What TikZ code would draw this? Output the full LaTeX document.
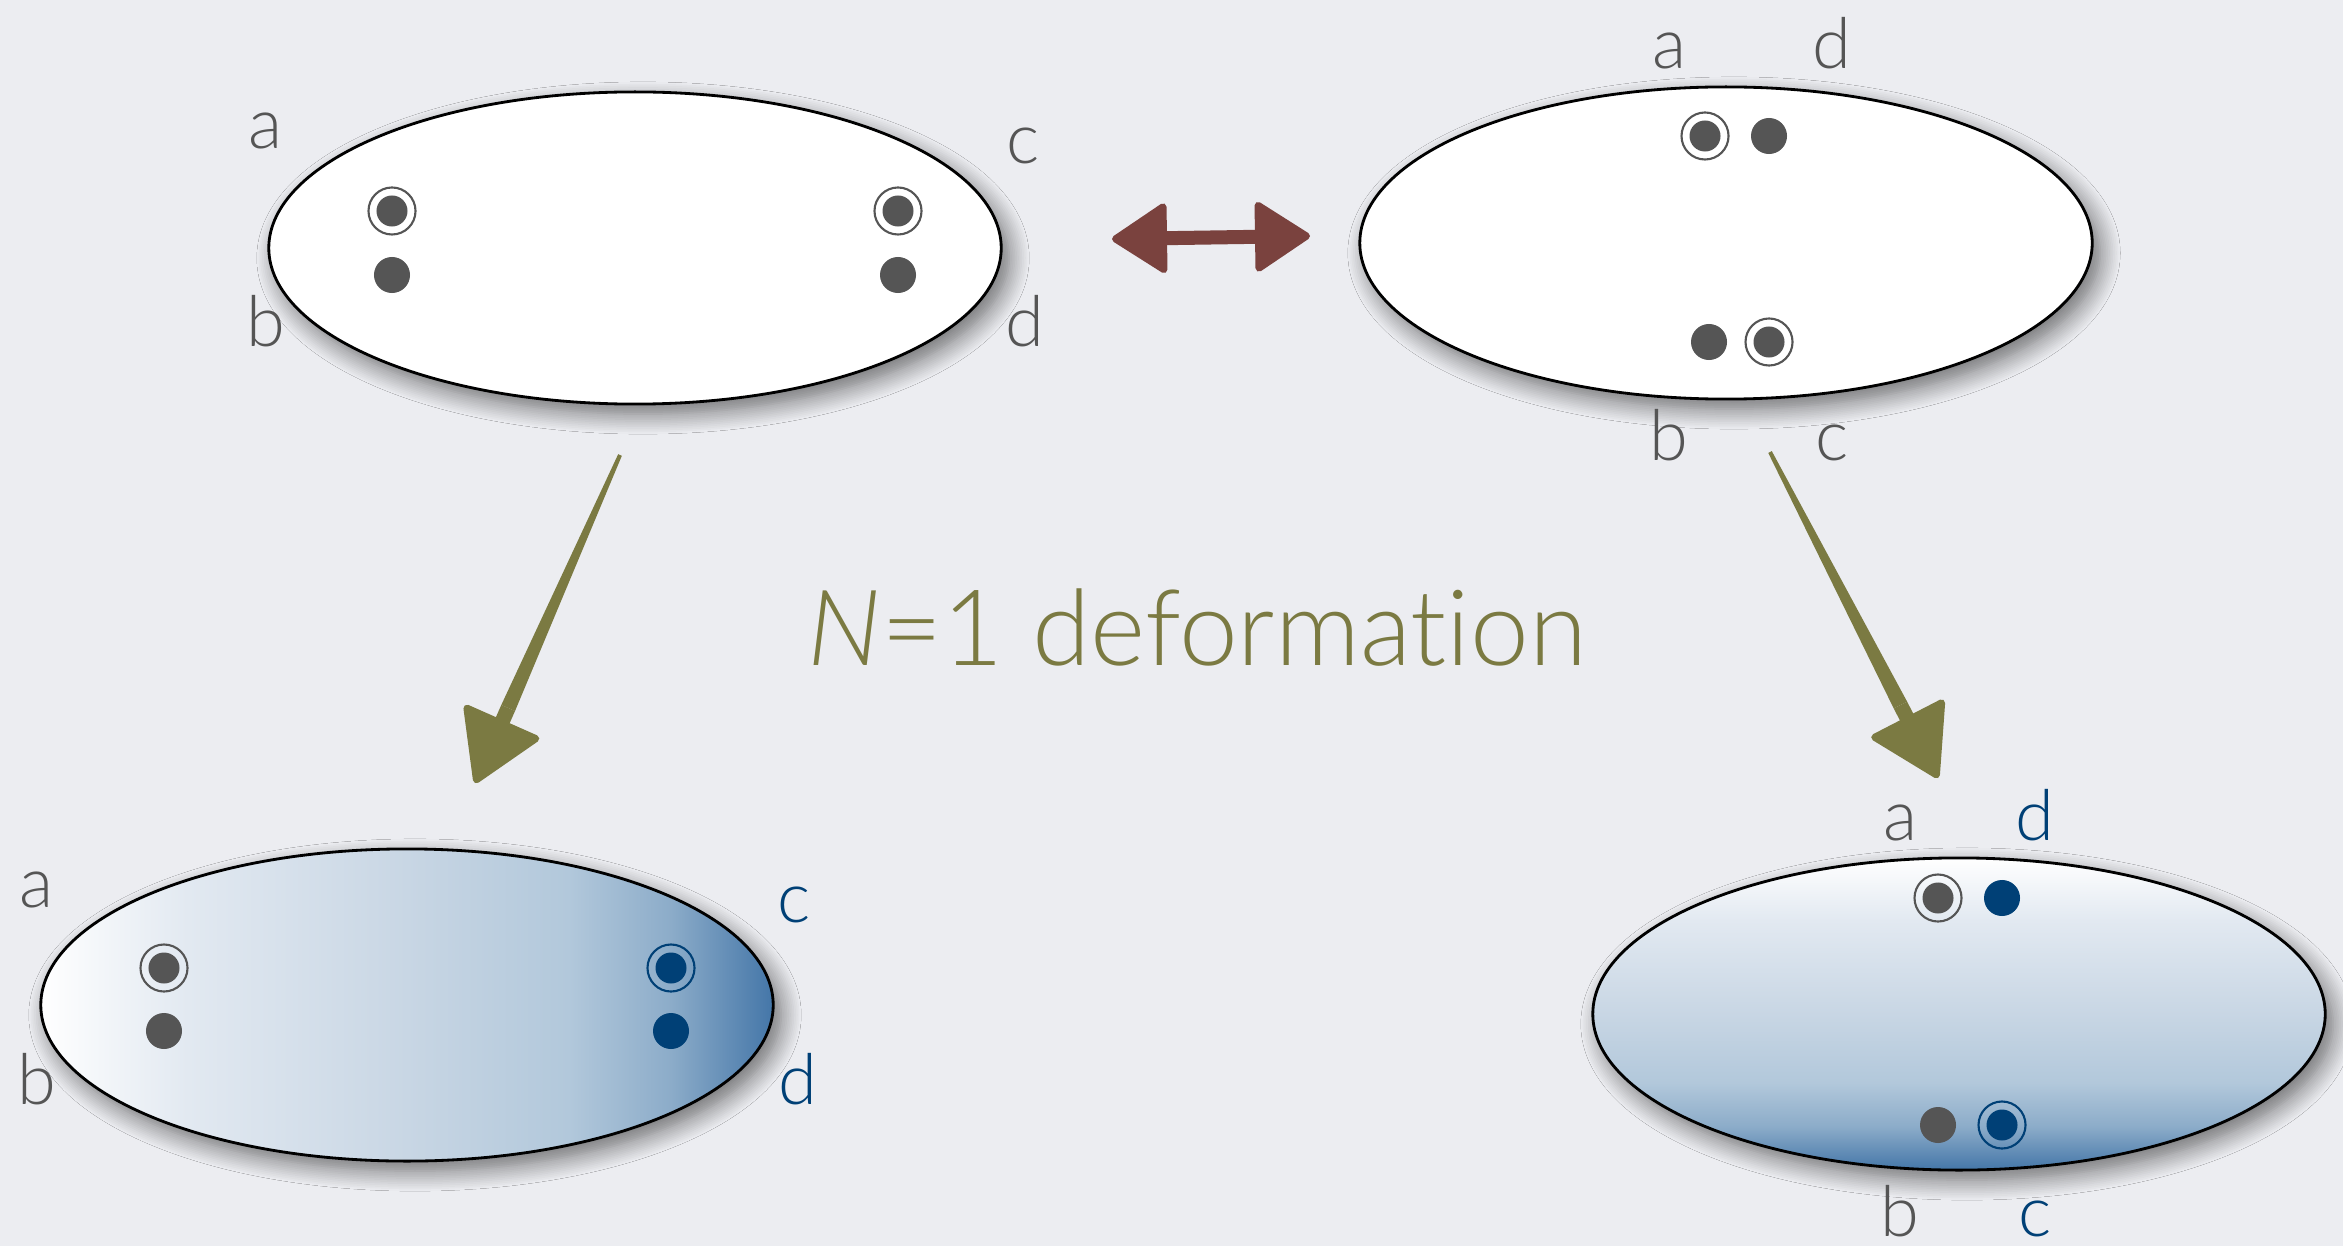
\documentclass[tikz,border=0pt]{standalone}
\usepackage{fontspec}
\setmainfont{Lato Light}[Ligatures={NoCommon}]
\usetikzlibrary{shapes.geometric,arrows.meta,shadows.blur,calc}
\definecolor{bg}{RGB}{236,237,241}
\definecolor{dotgray}{RGB}{85,85,85}
\definecolor{dotblue}{RGB}{0,64,118}
\definecolor{olivec}{RGB}{123,122,66}
\definecolor{brownred}{RGB}{122,66,62}
\definecolor{shblue}{RGB}{68,118,168}
\definecolor{sa}{RGB}{226,233,241}
\definecolor{sb}{RGB}{200,214,228}
\definecolor{sc}{RGB}{178,200,219}
\definecolor{sd}{RGB}{140,172,201}
\pgfdeclarehorizontalshading{hblob}{100bp}{color(0bp)=(white); color(25bp)=(white);
  color(35bp)=(sa); color(50bp)=(sb); color(61bp)=(sc); color(68bp)=(sd);
  color(75bp)=(shblue); color(100bp)=(shblue)}
\pgfdeclareverticalshading{vblob}{100bp}{color(0bp)=(shblue); color(25bp)=(shblue);
  color(32bp)=(sd); color(39bp)=(sc); color(50bp)=(sb); color(65bp)=(sa);
  color(75bp)=(white); color(100bp)=(white)}
\begin{document}
\begin{tikzpicture}[x=0.01cm,y=-0.01cm,
  blob/.style={ellipse, draw=black, line width=0.8pt, minimum width=7.32cm,
    minimum height=3.12cm, inner sep=0pt,
    blur shadow={shadow xshift=0.08cm, shadow yshift=-0.1cm,
      shadow blur radius=0.2cm, shadow blur steps=12, shadow opacity=55}},
  dotg/.style={circle, fill=dotgray, minimum size=0.36cm, inner sep=0pt},
  dotb/.style={circle, fill=dotblue, minimum size=0.36cm, inner sep=0pt},
  ringg/.style={circle, draw=dotgray, line width=0.6pt, minimum size=0.47cm, inner sep=0pt,
    path picture={\fill[dotgray] (path picture bounding box.center) circle (0.155cm);}},
  ringb/.style={circle, draw=dotblue, line width=0.6pt, minimum size=0.47cm, inner sep=0pt,
    path picture={\fill[dotblue] (path picture bounding box.center) circle (0.155cm);}},
  labg/.style={font=\fontsize{20}{24}\selectfont, text=dotgray, inner sep=0pt, anchor=base},
  labb/.style={labg, text=dotblue},
  olivearrow/.style={olivec, line width=0.15cm,
    -{Triangle[length=0.72cm, width=0.86cm, round, line width=2pt]}},
  brownarrow/.style={brownred, line width=0.14cm,
    {Triangle[length=0.58cm, width=0.74cm, round, line width=2pt]}-{Triangle[length=0.58cm, width=0.74cm, round, line width=2pt]}}
]
\fill[bg] (0,0) rectangle (2343,1246);
\useasboundingbox (0,0) rectangle (2343,1246);

% top-left ellipse
\node[blob, fill=white] (e1) at (635,248) {};
\node[ringg] (e1a) at (392,211) {};
\node[dotg]  (e1b) at (392,275) {};
\node[ringg] (e1c) at (898,211) {};
\node[dotg]  (e1d) at (898,275) {};
\node[labg] (l1a) at (266,149) {a};
\node[labg] (l1b) at (266,347) {b};
\node[labg] (l1c) at (1023,164) {c};
\node[labg] (l1d) at (1025,347) {d};

% top-right ellipse
\node[blob, fill=white] (e2) at (1726,243) {};
\node[ringg] (e2a) at (1705,136) {};
\node[dotg]  (e2d) at (1769,136) {};
\node[dotg]  (e2b) at (1709,342) {};
\node[ringg] (e2c) at (1769,342) {};
\node[labg] (l2a) at (1669,69) {a};
\node[labg] (l2d) at (1832,69) {d};
\node[labg] (l2b) at (1669,460) {b};
\node[labg] (l2c) at (1832,460) {c};

% bottom-left ellipse
\node[blob, shading=hblob] (e3) at (407,1005) {};
\node[ringg] (e3a) at (164,968) {};
\node[dotg]  (e3b) at (164,1031) {};
\node[ringb] (e3c) at (671,968) {};
\node[dotb]  (e3d) at (671,1031) {};
\node[labg] (l3a) at (37,907) {a};
\node[labg] (l3b) at (37,1104) {b};
\node[labb] (l3c) at (794,922) {c};
\node[labb] (l3d) at (798,1104) {d};

% bottom-right ellipse
\node[blob, shading=vblob] (e4) at (1959,1014) {};
\node[ringg] (e4a) at (1938,898) {};
\node[dotb]  (e4d) at (2002,898) {};
\node[dotg]  (e4b) at (1938,1125) {};
\node[ringb] (e4c) at (2002,1125) {};
\node[labg] (l4a) at (1900,840) {a};
\node[labb] (l4d) at (2035,840) {d};
\node[labg] (l4b) at (1900,1236) {b};
\node[labb] (l4c) at (2035,1236) {c};

% double arrow
\coordinate (b1) at (1112,239);
\coordinate (b2) at (1310,236);
\draw[brownarrow] (b1) -- (b2);

% left olive arrow (tapered shaft)
\coordinate (o1s) at (620,455);
\coordinate (o1t) at (475,783);
\coordinate (o1h) at ($(o1t)!0.82cm!(o1s)$);
\fill[olivec] ($(o1s)!0.02cm!90:(o1t)$) -- ($(o1h)!0.075cm!-90:(o1s)$)
  -- ($(o1h)!0.075cm!90:(o1s)$) -- ($(o1s)!0.02cm!-90:(o1t)$) -- cycle;
\draw[olivearrow] (o1h) -- (o1t);

% right olive arrow (tapered shaft)
\coordinate (o2s) at (1770,452);
\coordinate (o2t) at (1938,778);
\coordinate (o2h) at ($(o2t)!0.82cm!(o2s)$);
\fill[olivec] ($(o2s)!0.02cm!90:(o2t)$) -- ($(o2h)!0.075cm!-90:(o2s)$)
  -- ($(o2h)!0.075cm!90:(o2s)$) -- ($(o2s)!0.02cm!-90:(o2t)$) -- cycle;
\draw[olivearrow] (o2h) -- (o2t);

% caption
\node[font=\fontsize{30}{36}\selectfont, text=olivec, anchor=base, inner sep=0pt] (cap) at (1197,665) {\textit{N}=1 deformation};
\end{tikzpicture}
\end{document}
